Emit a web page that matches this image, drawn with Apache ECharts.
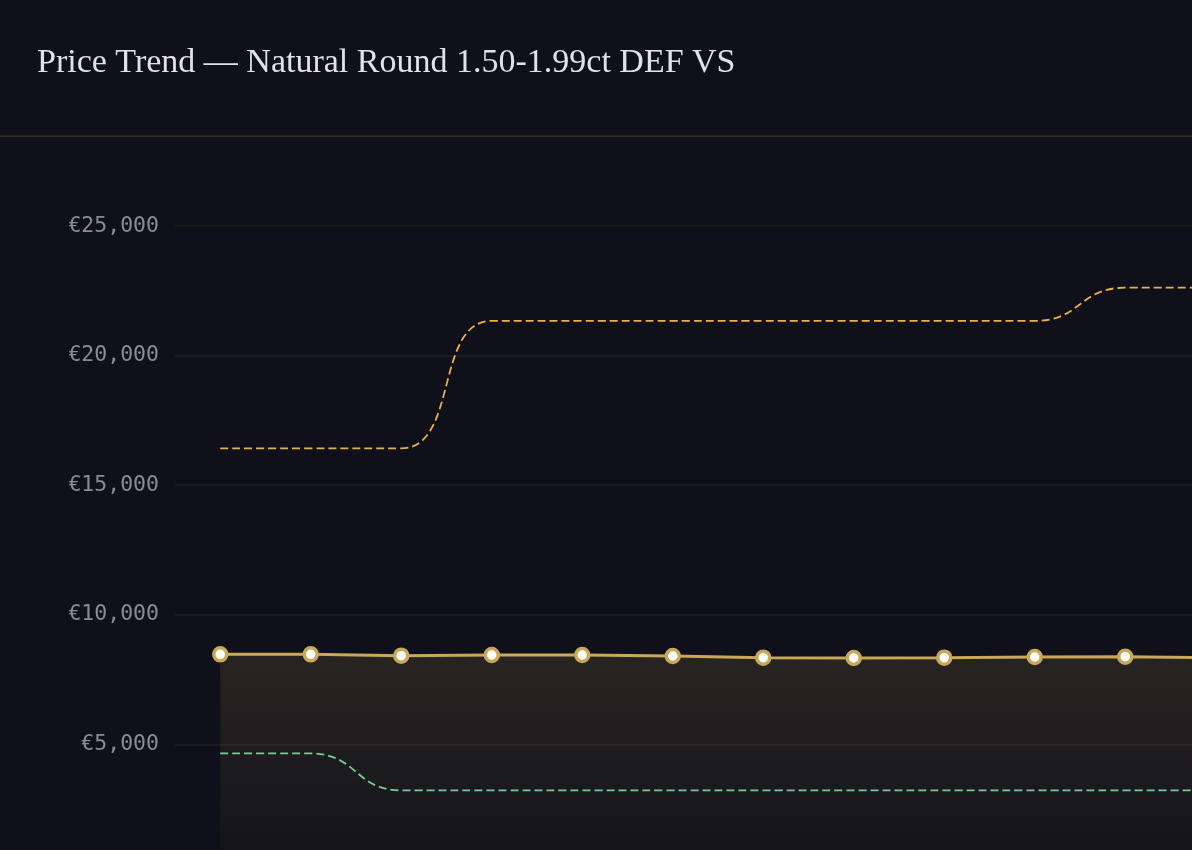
<!DOCTYPE html>
<html>
<head>
<meta charset="utf-8">
<script src="https://cdn.jsdelivr.net/npm/echarts@6/dist/echarts.min.js"></script>
<style>
  html, body { margin: 0; padding: 0; background: #0f1019; overflow: hidden; width: 1192px; height: 850px; }
  #chart { width: 1300px; height: 930px; }
</style>
</head>
<body>
<div id="chart"></div>
<script>
const titleText = 'Price Trend — Natural Round 1.50-1.99ct DEF VS';
const months = ['Jan', 'Feb', 'Mar', 'Apr', 'May', 'Jun', 'Jul', 'Aug', 'Sep', 'Oct', 'Nov', 'Dec'];
const avgPrice = [8476, 8476, 8422, 8449, 8449, 8410, 8345, 8333, 8345, 8372, 8383, 8340];
const highPrice = [16420, 16420, 16420, 21340, 21340, 21340, 21340, 21340, 21340, 21340, 22620, 22620];
const lowPrice = [4650, 4650, 3230, 3230, 3230, 3230, 3230, 3230, 3230, 3230, 3230, 3230];

const chart = echarts.init(document.getElementById('chart'), null, { renderer: 'canvas' });
chart.setOption({
  backgroundColor: '#0f1019',
  animation: false,
  title: {
    text: titleText,
    left: 37,
    top: 46,
    padding: 0,
    textStyle: {
      fontFamily: '"Liberation Serif", serif',
      fontWeight: 'normal',
      fontSize: 34,
      color: '#e2e0ea'
    }
  },
  graphic: [{
    type: 'rect',
    shape: { x: 0, y: 135.5, width: 1300, height: 1.2 },
    style: { fill: '#41382a' },
    silent: true
  }],
  grid: { left: 175, width: 1086, top: 226, bottom: 56 },
  xAxis: {
    type: 'category',
    data: months,
    boundaryGap: true,
    axisLine: { lineStyle: { color: '#2a2722' } },
    axisTick: { show: false },
    axisLabel: { color: '#8b8b96', fontFamily: '"DejaVu Sans Mono", monospace', fontSize: 16 }
  },
  yAxis: {
    type: 'value',
    min: 0,
    max: 25000,
    interval: 5000,
    axisLine: { show: false },
    axisTick: { show: false },
    splitLine: { lineStyle: { color: '#221f1e', width: 1.5 } },
    axisLabel: {
      margin: 16,
      color: '#8b8b96',
      fontFamily: '"DejaVu Sans Mono", monospace',
      fontSize: 21.5,
      formatter: v => '€' + v.toLocaleString('en-US')
    }
  },
  series: [
    {
      name: 'Average',
      type: 'line',
      data: avgPrice,
      z: 3,
      symbol: 'circle',
      symbolSize: 13,
      itemStyle: { color: '#ffffff', borderColor: '#c9a85a', borderWidth: 3.5 },
      lineStyle: { color: '#c9a85a', width: 3 },
      areaStyle: {
        color: new echarts.graphic.LinearGradient(0, 0, 0, 1, [
          { offset: 0, color: 'rgba(201,168,90,0.19)' },
          { offset: 1, color: 'rgba(201,168,90,0.02)' }
        ])
      }
    },
    {
      name: 'High',
      type: 'line',
      data: highPrice,
      smooth: true,
      symbol: 'none',
      z: 2,
      lineStyle: { color: '#e8b04a', width: 1.8, type: [8, 4] }
    },
    {
      name: 'Low',
      type: 'line',
      data: lowPrice,
      smooth: true,
      symbol: 'none',
      z: 2,
      lineStyle: { color: '#6fcf97', width: 1.8, type: [8, 4] }
    }
  ]
});
</script>
</body>
</html>
